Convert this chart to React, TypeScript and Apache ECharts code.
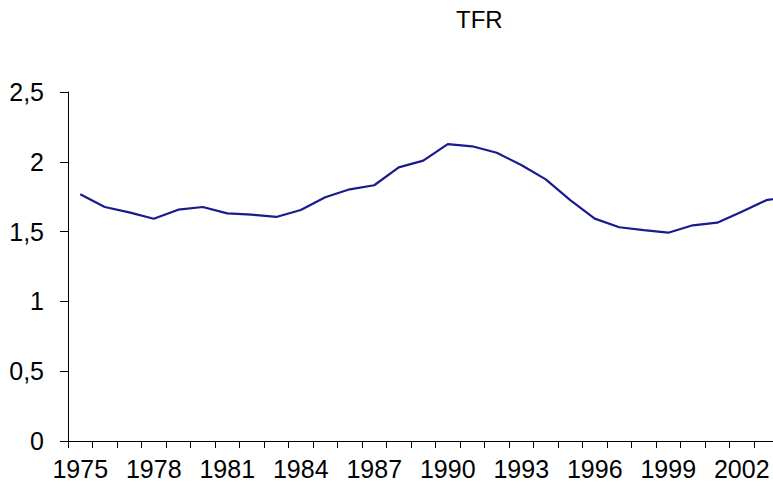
import React, { useEffect, useRef } from "react";
import * as echarts from "echarts";

const years: string[] = [
  "1975", "1976", "1977", "1978", "1979", "1980", "1981", "1982", "1983", "1984",
  "1985", "1986", "1987", "1988", "1989", "1990", "1991", "1992", "1993", "1994",
  "1995", "1996", "1997", "1998", "1999", "2000", "2001", "2002", "2003", "2004",
];

const tfr: number[] = [
  1.767, 1.676, 1.638, 1.592, 1.657, 1.676, 1.631, 1.621, 1.605, 1.655,
  1.746, 1.803, 1.832, 1.96, 2.008, 2.127, 2.111, 2.065, 1.977, 1.874,
  1.726, 1.593, 1.531, 1.511, 1.492, 1.545, 1.564, 1.643, 1.725, 1.755,
];

const yTicks: number[] = [0, 0.5, 1, 1.5, 2, 2.5];

const FONT = "'Liberation Sans', Arial, sans-serif";

export default function App() {
  const ref = useRef<HTMLDivElement>(null);
  useEffect(() => {
    if (!ref.current) return;
    const chart = echarts.init(ref.current, undefined, { renderer: "svg" });
    chart.setOption({
      animation: false,
      backgroundColor: "#ffffff",
      title: {
        text: "TFR",
        left: 451,
        top: 2,
        textStyle: { fontFamily: FONT, fontSize: 24, fontWeight: "normal", color: "#000" },
      },
      grid: { left: 68, top: 92, bottom: 54, right: 0, containLabel: false },
      xAxis: {
        type: "category",
        data: years,
        boundaryGap: true,
        axisLine: { lineStyle: { color: "#000", width: 1 } },
        axisTick: { show: true, interval: 0, length: 7, lineStyle: { color: "#000" } },
        axisLabel: {
          interval: 2,
          margin: 15,
          fontFamily: FONT,
          fontSize: 25,
          color: "#000",
        },
        splitLine: { show: false },
      },
      yAxis: {
        type: "value",
        min: yTicks[0],
        max: yTicks[yTicks.length - 1],
        interval: 0.5,
        axisLine: { show: true, lineStyle: { color: "#000", width: 1 } },
        axisTick: { show: true, length: 8, lineStyle: { color: "#000" } },
        axisLabel: {
          margin: 24,
          fontFamily: FONT,
          fontSize: 25,
          color: "#000",
          formatter: (v: number) => String(v).replace(".", ","),
        },
        splitLine: { show: false },
      },
      series: [
        {
          type: "line",
          data: tfr,
          symbol: "none",
          lineStyle: { color: "#1a1a8c", width: 2.2 },
        },
      ],
    });
    return () => chart.dispose();
  }, []);
  return (
    <div
      style={{
        position: "absolute",
        left: 0,
        top: 0,
        width: 773,
        height: 495,
        overflow: "hidden",
        background: "#fff",
      }}
    >
      <div ref={ref} style={{ width: 803, height: 495 }} />
    </div>
  );
}
